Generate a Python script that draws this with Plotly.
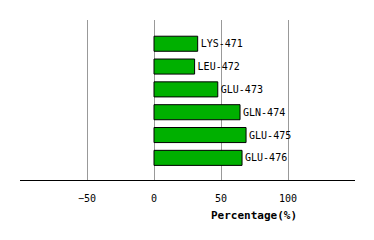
import plotly.graph_objects as go

residues = ["LYS-471", "LEU-472", "GLU-473", "GLN-474", "GLU-475", "GLU-476"]
percentages = [32.6, 30.3, 47.6, 64.2, 68.7, 65.7]
x_ticks = [-50, 0, 50, 100]

fig = go.Figure(go.Bar(
    x=percentages, y=residues, orientation="h",
    marker=dict(color="#00b000", line=dict(color="black", width=1)),
    width=0.66,
    text=residues, textposition="outside",
    textfont=dict(family="DejaVu Sans Mono", size=10, color="black"),
    cliponaxis=False,
))

fig.update_layout(
    width=374, height=240,
    margin=dict(l=20, r=19, t=20, b=60),
    paper_bgcolor="white", plot_bgcolor="white",
    showlegend=False,
    xaxis=dict(range=[-100, 150], tickvals=x_ticks, showgrid=True,
               gridcolor="#999999", gridwidth=1, zeroline=True,
               zerolinecolor="#999999", zerolinewidth=1,
               showline=True, linecolor="black", linewidth=1,
               ticks="outside", ticklen=9, tickcolor="rgba(0,0,0,0)",
               tickfont=dict(family="DejaVu Sans Mono", size=10, color="black")),
    yaxis=dict(categoryorder="array", categoryarray=residues,
               range=[5.97, -1.04], showticklabels=False, showgrid=False,
               zeroline=False, showline=False),
    annotations=[dict(text="<b>Percentage(%)</b>", showarrow=False,
                      xref="paper", yref="paper",
                      font=dict(family="DejaVu Sans Mono", size=11, color="black"))],
)
pw = 374 - 20 - 19
ph = 240 - 20 - 60
fig.layout.annotations[0].x = (254 - 20) / pw
fig.layout.annotations[0].y = (180 - 215) / ph
fig.layout.annotations[0].xanchor = "center"
fig.layout.annotations[0].yanchor = "middle"

fig.write_html("out.html")
